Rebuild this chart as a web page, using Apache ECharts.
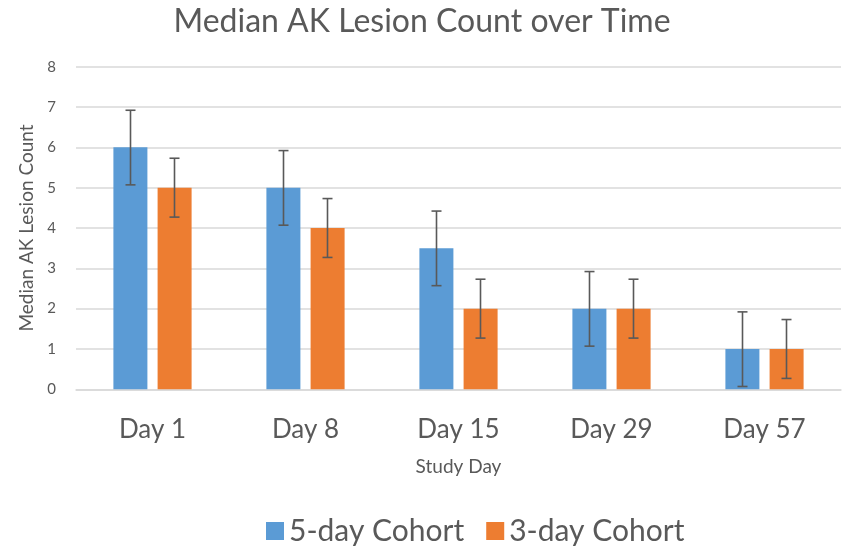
<!DOCTYPE html>
<html><head><meta charset="utf-8">
<script src="https://cdn.jsdelivr.net/npm/echarts@6/dist/echarts.min.js"></script>
<style>html,body{margin:0;padding:0;background:#fff}#c{width:844px;height:549px}</style>
</head><body><div id="c"></div>
<script>
const categories = ['Day 1','Day 8','Day 15','Day 29','Day 57'];
const cohort5 = [6, 5, 3.5, 2, 1];
const cohort3 = [5, 4, 2, 2, 1];
const cohort5Low = [5.07, 4.07, 2.57, 1.07, 0.07];
const cohort5High = [6.92, 5.92, 4.42, 2.92, 1.92];
const cohort3Low = [4.27, 3.27, 1.27, 1.27, 0.27];
const cohort3High = [5.73, 4.73, 2.73, 2.73, 1.73];
const seriesNames = ['5-day Cohort','3-day Cohort'];
const yTicks = [0,1,2,3,4,5,6,7,8];

const FONT = 'Lato';
const BAR_W = 34, OFFSET = 22;
function errItem(lows, highs, sign){
  return function(params, api){
    const i = api.value(0);
    const lo = api.coord([i, api.value(1)]);
    const hi = api.coord([i, api.value(2)]);
    const x = lo[0] + sign*OFFSET;
    const cap = 5;
    const st = {stroke:'#595959', lineWidth:1.6};
    return {type:'group', children:[
      {type:'line', shape:{x1:x,y1:hi[1],x2:x,y2:lo[1]}, style:st},
      {type:'line', shape:{x1:x-cap,y1:hi[1],x2:x+cap,y2:hi[1]}, style:st},
      {type:'line', shape:{x1:x-cap,y1:lo[1],x2:x+cap,y2:lo[1]}, style:st}
    ]};
  };
}
const chart = echarts.init(document.getElementById('c'));
chart.setOption({
  animation:false,
  textStyle:{fontFamily:FONT},
  title:{text:'Median AK Lesion Count over Time', left:'center', top:1,
    textStyle:{fontFamily:FONT, fontSize:32, fontWeight:'normal', color:'#595959'}},
  legend:{data:seriesNames, top:511, left:261, itemWidth:18, itemHeight:18, itemGap:22,
    icon:'rect', textStyle:{fontFamily:FONT, fontSize:30, color:'#595959'}},
  grid:{left:76, right:3, top:66.7, bottom:159.7},
  xAxis:{type:'category', data:categories,
    axisLine:{lineStyle:{color:'#d9d9d9', width:1.5}}, axisTick:{show:false},
    axisLabel:{fontSize:26, color:'#595959', margin:27},
    name:'Study Day', nameLocation:'middle', nameGap:68,
    nameTextStyle:{fontSize:19, color:'#595959'}},
  yAxis:{type:'value', min:0, max:8, interval:1,
    axisLine:{show:false}, axisTick:{show:false},
    splitLine:{lineStyle:{color:'#d9d9d9', width:1.5}},
    axisLabel:{fontSize:15, color:'#595959', margin:20, formatter:v=>yTicks.includes(v)?String(v):''},
    name:'Median AK Lesion Count', nameLocation:'middle', nameGap:38, nameRotate:90,
    nameTextStyle:{fontSize:19, color:'#595959'}},
  series:[
    {name:seriesNames[0], type:'bar', data:cohort5, barWidth:BAR_W, barGap:'30%', itemStyle:{color:'#5B9BD5'}},
    {name:seriesNames[1], type:'bar', data:cohort3, barWidth:BAR_W, barGap:'30%', itemStyle:{color:'#ED7D31'}},
    {type:'custom', renderItem:errItem(cohort5Low,cohort5High,-1), data:categories.map((c,i)=>[i,cohort5Low[i],cohort5High[i]]), z:10},
    {type:'custom', renderItem:errItem(cohort3Low,cohort3High,1), data:categories.map((c,i)=>[i,cohort3Low[i],cohort3High[i]]), z:10}
  ]
});
</script></body></html>
